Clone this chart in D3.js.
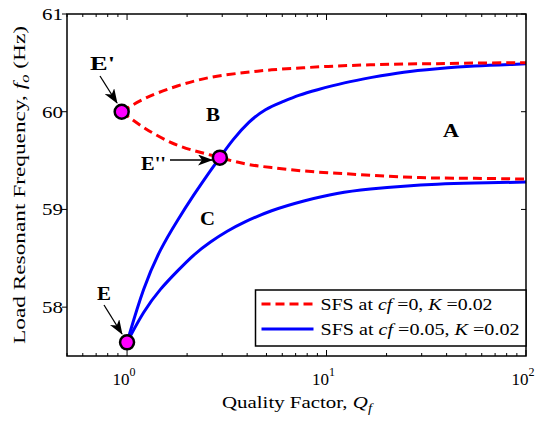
<!DOCTYPE html>
<html>
<head>
<meta charset="utf-8">
<script src="https://cdn.jsdelivr.net/npm/d3@7"></script>
<style>
  body { margin: 0; background: #fff; }
  text { font-family: "Liberation Serif", "Times New Roman", serif; }
</style>
</head>
<body>
<div id="chart"></div>
<script>
// SFS at cf=0, K=0.02 (two branches from E')
var redQ     = [0.94, 1.21, 1.79, 2.62, 3.85, 5.24, 7.7, 11.3, 16.6, 24.4, 35.9, 52.8, 100];
var redUpper = [60.00, 60.14, 60.27, 60.36, 60.40, 60.43, 60.45, 60.47, 60.48, 60.49, 60.49, 60.50, 60.50];
var redLower = [60.00, 59.83, 59.64, 59.56, 59.46, 59.43, 59.39, 59.37, 59.35, 59.33, 59.32, 59.32, 59.31];

// SFS at cf=0.05, K=0.02 (two branches from E)
var blueUpQ   = [1.0, 1.21, 1.47, 1.79, 2.16, 2.62, 2.92, 3.37, 4.08, 4.94, 6.0, 7.25, 8.8, 12.4, 16.6, 24.4, 35.9, 52.8, 100];
var blueUpper = [57.64, 58.21, 58.60, 58.89, 59.15, 59.40, 59.53, 59.71, 59.90, 60.03, 60.10, 60.17, 60.22, 60.30, 60.35, 60.41, 60.44, 60.47, 60.49];
var blueLoQ   = [1.0, 1.21, 1.47, 1.79, 2.16, 2.62, 3.18, 3.85, 5.24, 7.7, 11.3, 16.6, 24.4, 35.9, 52.8, 100];
var blueLower = [57.64, 57.96, 58.19, 58.37, 58.54, 58.67, 58.78, 58.87, 58.99, 59.09, 59.17, 59.21, 59.24, 59.26, 59.27, 59.28];

// marked points
var pointNames = ["E'", "E''", "E"];
var pointQ = [0.94, 2.92, 1.0];
var pointF = [60.00, 59.53, 57.64];

var xMajor = [1, 10, 100];
var yTicks = [58, 59, 60, 61];

var width = 539,
    height = 424;
var margin = {top: 14, right: 13, bottom: 68, left: 67};
var w = width - margin.left - margin.right,
    h = height - margin.top - margin.bottom;

var svg = d3.select("#chart").append("svg")
    .attr("width", width)
    .attr("height", height);

var x = d3.scaleLog().domain([0.5, 100]).range([0, w]);
var y = d3.scaleLinear().domain([57.5, 61]).range([h, 0]);

svg.append("defs").append("marker")
    .attr("id", "arrow")
    .attr("viewBox", "0 0 15 11")
    .attr("refX", 14).attr("refY", 5.5)
    .attr("markerWidth", 15).attr("markerHeight", 11)
    .attr("markerUnits", "userSpaceOnUse")
    .attr("orient", "auto")
  .append("path")
    .attr("d", "M0,0 L15,5.5 L0,11 L4,5.5 Z")
    .attr("fill", "#000");

var g = svg.append("g")
    .attr("transform", "translate(" + margin.left + "," + margin.top + ")");

// minor x ticks
var minor = [];
[0.1, 1, 10].forEach(function(d) {
  for (var k = 2; k <= 9; k++) {
    var v = d * k;
    if (v >= 0.5 && v <= 100) minor.push(v);
  }
});

var tickG = g.append("g").attr("stroke", "#000").attr("stroke-width", 1);
minor.concat(xMajor).forEach(function(v) {
  var len = xMajor.indexOf(v) >= 0 ? 6 : 3;
  tickG.append("line").attr("x1", x(v)).attr("x2", x(v)).attr("y1", h).attr("y2", h - len);
  tickG.append("line").attr("x1", x(v)).attr("x2", x(v)).attr("y1", 0).attr("y2", len);
});
yTicks.forEach(function(v) {
  tickG.append("line").attr("x1", 0).attr("x2", -5).attr("y1", y(v)).attr("y2", y(v));
  tickG.append("line").attr("x1", w).attr("x2", w - 5).attr("y1", y(v)).attr("y2", y(v));
});

// tick labels
g.selectAll(".ylab").data(yTicks).enter().append("text")
    .attr("x", -4)
    .attr("y", function(d) { return y(d); })
    .attr("dy", "0.35em")
    .attr("text-anchor", "end")
    .attr("textLength", 21)
    .attr("lengthAdjust", "spacingAndGlyphs")
    .style("font-size", "17px")
    .text(function(d) { return d; });

var xl = g.selectAll(".xlab").data(xMajor).enter().append("text")
    .attr("x", function(d) { return x(d) - 3; })
    .attr("y", h + 29)
    .attr("text-anchor", "middle")
    .style("font-size", "17px");
xl.append("tspan").text("10");
xl.append("tspan").attr("dy", -9).style("font-size", "12px")
    .text(function(d) { return Math.round(Math.log10(d)); });

// curves
var line = d3.line()
    .x(function(d) { return x(d[0]); })
    .y(function(d) { return y(d[1]); })
    .curve(d3.curveBasis);

function pairs(qs, fs) { return qs.map(function(q, i) { return [q, fs[i]]; }); }

var blueStyle = function(p) {
  p.attr("fill", "none").attr("stroke", "#0000ff").attr("stroke-width", 3);
};
var redStyle = function(p) {
  p.attr("fill", "none").attr("stroke", "#ff0000").attr("stroke-width", 3)
   .attr("stroke-dasharray", "9,5");
};

g.append("path").datum(pairs(blueUpQ, blueUpper)).attr("d", line).call(blueStyle);
g.append("path").datum(pairs(blueLoQ, blueLower)).attr("d", line).call(blueStyle);
g.append("path").datum(pairs(redQ, redUpper)).attr("d", line).call(redStyle);
g.append("path").datum(pairs(redQ, redLower)).attr("d", line).call(redStyle);

// frame
g.append("rect").attr("width", w).attr("height", h)
    .attr("fill", "none").attr("stroke", "#000").attr("stroke-width", 1.5);

// points
g.selectAll(".pt").data(pointQ).enter().append("circle")
    .attr("cx", function(d) { return x(d); })
    .attr("cy", function(d, i) { return y(pointF[i]); })
    .attr("r", 7)
    .attr("fill", "#ff00ff")
    .attr("stroke", "#000")
    .attr("stroke-width", 2.5);

// annotations
function label(txt, lx, ly, len) {
  g.append("text").attr("x", lx).attr("y", ly)
      .attr("textLength", len).attr("lengthAdjust", "spacingAndGlyphs")
      .style("font-size", "19px").style("font-weight", "bold")
      .text(txt);
}
label(pointNames[0], 23, 56, 25);
label(pointNames[1], 74, 156, 25);
label(pointNames[2], 30, 286, 14);
label("B", 139, 107, 14);
label("C", 133, 211, 15);
label("A", 376, 123, 16);

function arrow(x1, y1, x2, y2) {
  g.append("line").attr("x1", x1).attr("y1", y1).attr("x2", x2).attr("y2", y2)
      .attr("stroke", "#000").attr("stroke-width", 1.3)
      .attr("marker-end", "url(#arrow)");
}
arrow(33, 62, 50, 89);
arrow(103, 146, 145, 146);
arrow(37, 291, 55, 320);

// legend
var lgX = 255.5 - margin.left, lgY = 290 - margin.top;
var lg = g.append("g").attr("transform", "translate(" + lgX + "," + lgY + ")");
lg.append("rect").attr("width", w - lgX).attr("height", 56)
    .attr("fill", "#fff").attr("stroke", "#000").attr("stroke-width", 1.5);
lg.append("line").attr("x1", 6).attr("x2", 58).attr("y1", 14).attr("y2", 14).call(redStyle);
lg.append("line").attr("x1", 6).attr("x2", 58).attr("y1", 39).attr("y2", 39).call(blueStyle);

var legendCf = ["0", "0.05"];
var legendK = ["0.02", "0.02"];
var legendLen = [172, 199];
legendCf.forEach(function(cf, i) {
  var t = lg.append("text").attr("x", 65).attr("y", 14 + i * 25).attr("dy", "0.35em")
      .attr("textLength", legendLen[i]).attr("lengthAdjust", "spacingAndGlyphs")
      .style("font-size", "17px");
  t.append("tspan").text("SFS at ");
  t.append("tspan").style("font-style", "italic").text("cf");
  t.append("tspan").text(" =" + cf + ", ");
  t.append("tspan").style("font-style", "italic").text("K");
  t.append("tspan").text(" =" + legendK[i]);
});

// axis titles
var xt = svg.append("text")
    .attr("x", 222)
    .attr("y", 408)
    .attr("textLength", 150)
    .attr("lengthAdjust", "spacingAndGlyphs")
    .style("font-size", "17px");
xt.append("tspan").text("Quality Factor, ");
xt.append("tspan").style("font-style", "italic").text("Q");
xt.append("tspan").attr("dy", 4).style("font-size", "12px").style("font-style", "italic").text("f");

var yt = svg.append("text")
    .attr("transform", "translate(25," + (margin.top + h / 2 + 159) + ") rotate(-90)")
    .attr("textLength", 318)
    .attr("lengthAdjust", "spacingAndGlyphs")
    .style("font-size", "17px");
yt.append("tspan").text("Load Resonant Frequency, ");
yt.append("tspan").style("font-style", "italic").text("f");
yt.append("tspan").attr("dy", 4).style("font-size", "12px").style("font-style", "italic").text("o");
yt.append("tspan").attr("dy", -4).text(" (Hz)");
</script>
</body>
</html>
